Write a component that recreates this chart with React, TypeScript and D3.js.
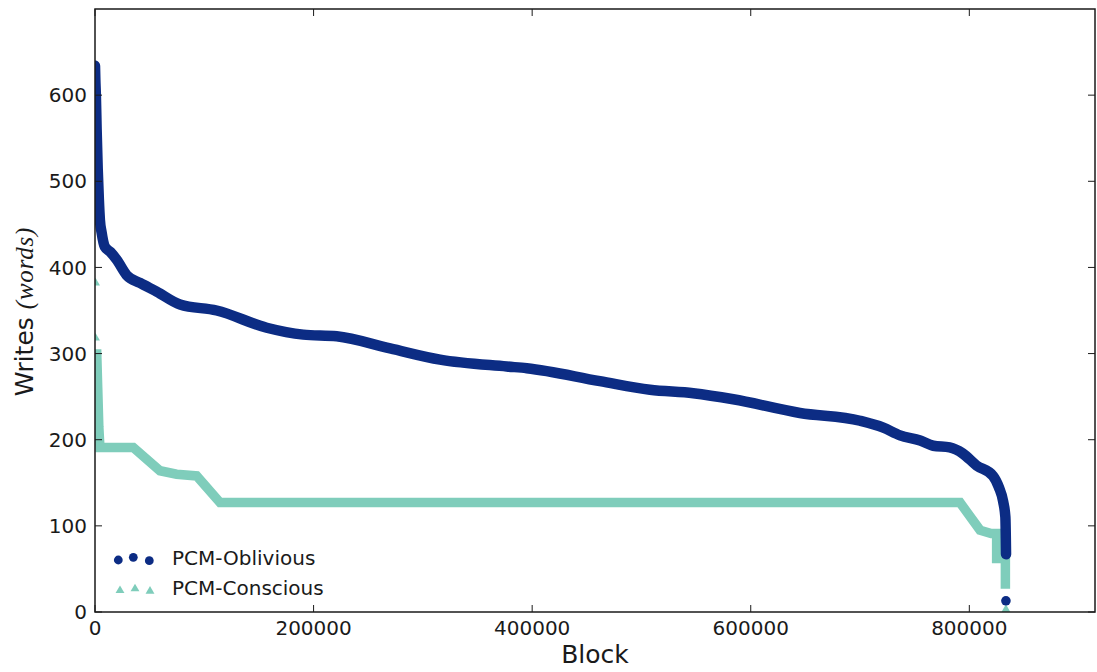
import * as d3 from 'd3'

// Block index / writes (sorted descending, per-block write counts)
const obliviousBlocks = [0, 300, 800, 1500, 2500, 3500, 4500, 6000, 9000, 14000, 19800, 29000, 41200, 56400, 77800, 111300, 157100, 190600, 221100, 270000, 315700, 376700, 395000, 462000, 507800, 547400, 584000, 645000, 700000, 721300, 736600, 755000, 767000, 782000, 794000, 806700, 821700, 827000, 831000, 833000, 833600]
const obliviousWrites = [634, 618, 600, 560, 514, 480, 455, 441, 424, 418, 409, 391, 382, 372, 357, 350, 330, 322, 320, 306, 293, 285, 283, 268, 258, 254, 247, 231, 222, 214, 205, 199, 193, 191, 184, 170, 158, 145, 128, 110, 67]

const consciousBlocks = [1500, 2500, 3500, 4500, 35000, 59500, 74700, 93000, 114400, 791500, 809800, 820000, 825000, 825000, 833000, 833000]
const consciousWrites = [305, 260, 215, 191, 191, 164, 160, 158, 127, 127, 95, 91, 91, 62, 62, 27]

// stray points away from the main curves
const obliviousStray = [[833500, 13]]
const consciousStray = [[500, 382], [500, 318], [833500, 3]]

const xTicks = [0, 200000, 400000, 600000, 800000]
const yTicks = [0, 100, 200, 300, 400, 500, 600]
const seriesNames = ['PCM-Oblivious', 'PCM-Conscious']

const W = 1097
const H = 672
const margin = { top: 9, right: 2, bottom: 60, left: 95 }
const innerW = W - margin.left - margin.right
const innerH = H - margin.top - margin.bottom

const BLUE = '#0c2c84'
const TEAL = '#7fcdbb'
const INK = '#1a1a1a'
const FONT = '"DejaVu Sans", sans-serif'

const triangle = d3.symbol().type(d3.symbolTriangle).size(34)

export default function App() {
  const x = d3.scaleLinear().domain([0, 915000]).range([0, innerW])
  const y = d3.scaleLinear().domain([0, 700]).range([innerH, 0])

  const blue = obliviousBlocks.map((b, i) => [b, obliviousWrites[i]] as [number, number])
  const teal = consciousBlocks.map((b, i) => [b, consciousWrites[i]] as [number, number])

  const smooth = d3.line<[number, number]>()
    .x((d) => x(d[0]))
    .y((d) => y(d[1]))
    .curve(d3.curveMonotoneX)

  const straight = d3.line<[number, number]>()
    .x((d) => x(d[0]))
    .y((d) => y(d[1]))

  return (
    <svg width={W} height={H} style={{ position: 'absolute', left: 0, top: 0, background: '#fff' }}>
      <defs>
        <clipPath id="plot-clip">
          <rect x={0} y={0} width={innerW} height={innerH} />
        </clipPath>
      </defs>
      <g transform={`translate(${margin.left},${margin.top})`}>
        <g clipPath="url(#plot-clip)">
          {/* Conscious curve */}
          <path d={straight(teal) || ''} fill="none" stroke={TEAL} strokeWidth={9.5} strokeLinejoin="miter" strokeMiterlimit={2} />
          {consciousStray.map((d, i) => (
            <path key={i} d={triangle() || ''} transform={`translate(${x(d[0])},${y(d[1])})`} fill={TEAL} />
          ))}
          {/* Oblivious curve */}
          <path d={smooth(blue) || ''} fill="none" stroke={BLUE} strokeWidth={10.5} strokeLinejoin="round" strokeLinecap="round" />
          {obliviousStray.map((d, i) => (
            <circle key={i} cx={x(d[0])} cy={y(d[1])} r={4.8} fill={BLUE} />
          ))}
        </g>

        {/* frame */}
        <rect x={0} y={0} width={innerW} height={innerH} fill="none" stroke={INK} strokeWidth={1.5} />

        {/* x ticks, inward on bottom and top */}
        {xTicks.map((t) => (
          <g key={t} transform={`translate(${x(t)},0)`}>
            <line y1={innerH} y2={innerH - 7} stroke={INK} strokeWidth={1} />
            <line y1={0} y2={7} stroke={INK} strokeWidth={1} />
            <text y={innerH + 23} textAnchor="middle" fontFamily={FONT} fontSize={20} fill={INK}>{t}</text>
          </g>
        ))}

        {/* y ticks, inward on left and right */}
        {yTicks.map((t) => (
          <g key={t} transform={`translate(0,${y(t)})`}>
            <line x1={0} x2={7} stroke={INK} strokeWidth={1} />
            <line x1={innerW} x2={innerW - 7} stroke={INK} strokeWidth={1} />
            <text x={-8} dy="0.36em" textAnchor="end" fontFamily={FONT} fontSize={20} fill={INK}>{t}</text>
          </g>
        ))}

        {/* axis labels */}
        <text x={innerW / 2} y={innerH + 51} textAnchor="middle" fontFamily={FONT} fontSize={25} fill={INK}>Block</text>
        <text transform={`translate(${33 - margin.left},${innerH / 2 + 1}) rotate(-90)`} textAnchor="middle" fontFamily={FONT} fontSize={25} fill={INK}>
          Writes <tspan fontFamily='"Liberation Serif", serif' fontStyle="italic" letterSpacing={0.8}>(words)</tspan>
        </text>

        {/* legend */}
        <g transform={`translate(0,${innerH})`}>
          {[[23.3, -52], [38.3, -54.7], [54.3, -51.3]].map((p, i) => (
            <circle key={i} cx={p[0]} cy={p[1]} r={4.4} fill={BLUE} />
          ))}
          {[[25, -21.5], [40, -23.2], [55, -20.8]].map((p, i) => (
            <path key={i} d={triangle() || ''} transform={`translate(${p[0]},${p[1]})`} fill={TEAL} />
          ))}
          <text x={77} y={-47} fontFamily={FONT} fontSize={20} fill={INK}>{seriesNames[0]}</text>
          <text x={77} y={-17} fontFamily={FONT} fontSize={20} fill={INK}>{seriesNames[1]}</text>
        </g>
      </g>
    </svg>
  )
}
